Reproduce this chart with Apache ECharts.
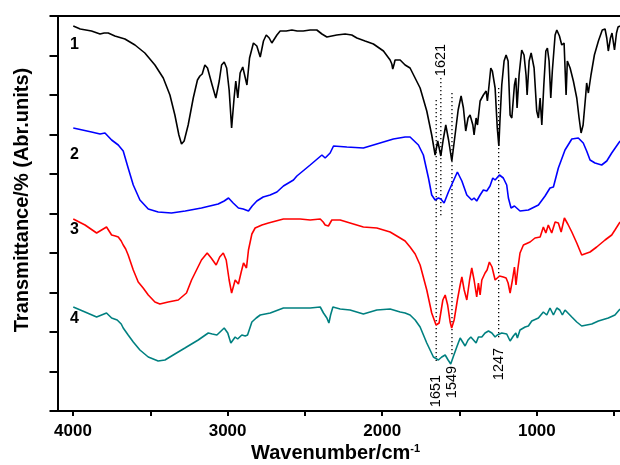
<!DOCTYPE html>
<html lang="en">
<head>
    <meta charset="UTF-8">
    <title>FTIR spectra</title>
    <script src="https://cdn.jsdelivr.net/npm/echarts/dist/echarts.min.js"></script>
    <style>
        body { margin: 0; background: #fff; }
        #main { width: 620px; height: 465px; }
    </style>
</head>
<body>
<div id="main"></div>
<script>
    // spectra: [wavenumber (cm-1), transmittance (a.u.)]
    const spectrum1 = [[3998,385],[3953,382],[3880,380],[3825,377],[3798,378],[3772,378],[3729,375],[3664,372],[3599,366],[3535,358],[3470,346],[3416,333],[3373,316],[3341,296],[3315,276],[3298,267],[3281,270],[3255,286],[3222,313],[3195,331],[3179,335],[3164,337],[3147,346],[3130,343],[3100,326],[3076,313],[3054,330],[3039,346],[3022,349],[3006,343],[2990,321],[2974,283],[2958,313],[2947,330],[2934,313],[2919,338],[2902,344],[2875,326],[2858,353],[2833,368],[2811,365],[2789,354],[2768,370],[2750,376],[2731,373],[2714,368],[2681,376],[2660,380],[2621,380],[2584,381],[2550,380],[2511,380],[2466,381],[2423,381],[2390,377],[2358,374],[2294,376],[2240,377],[2197,376],[2164,373],[2111,370],[2057,367],[1992,360],[1949,351],[1938,347],[1932,342],[1923,347],[1917,351],[1884,351],[1852,346],[1820,343],[1755,323],[1712,300],[1680,276],[1658,256],[1641,270],[1621,255],[1606,271],[1589,286],[1571,271],[1550,250],[1529,276],[1509,301],[1490,315],[1475,303],[1460,280],[1445,293],[1432,296],[1414,286],[1406,276],[1393,293],[1384,286],[1367,310],[1346,316],[1328,320],[1320,310],[1311,323],[1298,343],[1288,340],[1270,323],[1256,283],[1246,265],[1238,293],[1227,326],[1212,350],[1199,356],[1186,350],[1173,296],[1162,293],[1145,326],[1136,333],[1128,303],[1115,336],[1098,361],[1083,356],[1070,336],[1063,316],[1050,350],[1037,358],[1018,343],[1001,300],[990,293],[979,313],[968,286],[955,326],[942,360],[932,363],[921,350],[910,313],[900,340],[882,376],[871,381],[854,375],[839,366],[824,368],[811,316],[803,350],[785,343],[764,330],[742,313],[727,293],[714,278],[701,286],[684,316],[678,328],[667,318],[650,336],[628,356],[602,370],[577,381],[559,382],[548,373],[538,360],[524,373],[514,378],[498,361],[485,378],[475,384],[462,385]];
    const spectrum2 = [[3998,283],[3880,279],[3825,277],[3793,278],[3750,271],[3707,266],[3675,260],[3643,243],[3610,226],[3567,211],[3513,202],[3449,199],[3363,198],[3274,200],[3169,203],[3061,207],[3022,210],[2994,213],[2964,208],[2930,203],[2899,202],[2865,200],[2841,205],[2811,210],[2770,214],[2725,216],[2681,219],[2639,225],[2574,231],[2552,235],[2466,246],[2390,256],[2369,253],[2337,258],[2315,265],[2229,264],[2122,263],[2014,268],[1928,272],[1852,274],[1820,274],[1766,266],[1734,256],[1701,233],[1680,216],[1658,211],[1637,213],[1621,212],[1600,208],[1572,219],[1540,230],[1514,239],[1485,230],[1453,216],[1421,211],[1406,213],[1389,210],[1367,216],[1346,221],[1324,220],[1303,225],[1285,233],[1270,231],[1242,236],[1217,233],[1195,226],[1184,213],[1167,203],[1145,205],[1109,200],[1055,201],[990,206],[947,215],[915,223],[893,224],[861,243],[818,261],[774,272],[732,273],[700,268],[678,260],[656,251],[624,248],[581,246],[548,250],[516,258],[462,270]];
    const spectrum3 = [[3998,192],[3922,186],[3847,178],[3783,184],[3750,176],[3726,175],[3707,174],[3688,170],[3675,166],[3659,162],[3643,156],[3610,141],[3578,129],[3546,123],[3513,116],[3470,109],[3438,107],[3384,109],[3319,111],[3266,118],[3233,131],[3201,141],[3169,151],[3132,158],[3106,153],[3074,146],[3051,154],[3028,158],[3009,151],[2990,131],[2974,118],[2951,131],[2930,127],[2912,139],[2897,148],[2878,143],[2865,161],[2843,177],[2822,183],[2778,186],[2736,188],[2639,192],[2531,192],[2466,191],[2401,192],[2382,189],[2369,186],[2348,185],[2326,191],[2316,192],[2272,191],[2208,188],[2122,184],[2035,183],[1949,179],[1884,173],[1852,170],[1820,164],[1787,157],[1755,146],[1712,121],[1680,98],[1652,86],[1632,88],[1608,111],[1593,116],[1577,106],[1561,89],[1551,83],[1535,91],[1514,111],[1496,126],[1485,134],[1470,121],[1453,111],[1435,131],[1421,143],[1406,131],[1389,114],[1378,128],[1367,116],[1356,131],[1335,138],[1322,141],[1307,149],[1290,144],[1270,131],[1259,129],[1242,135],[1217,134],[1199,133],[1186,128],[1173,118],[1158,131],[1145,144],[1135,126],[1124,141],[1109,158],[1087,166],[1044,169],[1012,173],[979,174],[958,184],[942,178],[926,186],[904,178],[882,189],[861,188],[843,179],[822,193],[800,187],[774,179],[742,168],[710,156],[656,159],[613,164],[559,171],[516,176],[495,181],[462,189]];
    const spectrum4 = [[3998,104],[3922,99],[3847,94],[3783,98],[3750,93],[3714,91],[3688,87],[3675,83],[3643,76],[3610,69],[3567,61],[3513,54],[3449,50],[3405,51],[3341,57],[3276,63],[3190,71],[3125,78],[3099,77],[3069,76],[3022,83],[2999,78],[2979,68],[2951,74],[2935,72],[2908,76],[2886,75],[2871,76],[2843,89],[2815,93],[2789,96],[2724,98],[2639,103],[2552,103],[2466,103],[2401,104],[2380,98],[2358,93],[2345,88],[2334,96],[2319,104],[2272,102],[2208,101],[2122,97],[2035,101],[1949,102],[1884,99],[1852,98],[1820,96],[1787,91],[1755,84],[1712,68],[1669,54],[1637,51],[1615,54],[1593,56],[1574,51],[1557,47],[1539,55],[1518,64],[1496,73],[1480,69],[1464,65],[1445,71],[1427,74],[1410,71],[1393,68],[1378,74],[1356,74],[1335,78],[1313,80],[1291,78],[1270,74],[1256,76],[1227,78],[1195,77],[1173,70],[1152,75],[1136,78],[1126,73],[1109,81],[1076,84],[1055,85],[1033,90],[990,93],[958,99],[936,96],[915,103],[893,96],[871,103],[852,101],[835,96],[818,101],[774,94],[742,89],[710,85],[645,87],[602,90],[538,93],[495,96],[462,102]];

    const curveColors = ['#000000', '#0000ff', '#ff0000', '#008080'];
    const curveNames = ['1', '2', '3', '4'];
    const curveLabelY = [366, 256, 181, 92];

    // marked bands
    const peakWn = [1651, 1621, 1549, 1247];
    const peakTop = [311, 333, 318, 323];
    const peakBottom = [50, 194, 54, 73];
    const peakLabelY = [20, 351, 29, 47];

    const xTicks = [4000, 3500, 3000, 2500, 2000, 1500, 1000, 500];
    const xLabels = [4000, 3000, 2000, 1000];
    const yTicks = [0, 39.5, 79, 118.5, 158, 197.5, 237, 276.5, 316, 355.5, 395];

    const FONT = 'Liberation Sans, Arial, sans-serif';
    const NARROW = 'Liberation Sans Narrow, Arial Narrow, Liberation Sans, sans-serif';

    let myChart = echarts.init(document.getElementById('main'));

    let series = [spectrum1, spectrum2, spectrum3, spectrum4].map((d, i) => ({
        type: 'line',
        data: d,
        showSymbol: false,
        lineStyle: {color: curveColors[i], width: 1.6},
        z: 3
    }));

    peakWn.forEach((w, i) => {
        series.push({
            type: 'line',
            data: [[w, peakTop[i]], [w, peakBottom[i]]],
            showSymbol: false,
            lineStyle: {color: '#000', width: 1.3, type: [1.3, 2.7]},
            z: 2
        });
    });

    series.push({
        type: 'scatter',
        data: curveNames.map((n, i) => [3991, curveLabelY[i], n]),
        symbolSize: 0.01,
        itemStyle: {color: '#000', opacity: 1},
        label: {
            show: true, position: 'inside', formatter: p => p.data[2],
            fontFamily: FONT, fontWeight: 'bold', fontSize: 16, color: '#000'
        }
    });

    series.push({
        type: 'scatter',
        data: peakWn.map((w, i) => [w, peakLabelY[i], String(w)]),
        symbolSize: 0.01,
        itemStyle: {color: '#000', opacity: 1},
        label: {
            show: true, position: 'inside', rotate: 90, formatter: p => p.data[2],
            fontFamily: NARROW, fontSize: 14.5, color: '#000'
        }
    });

    let option = {
        animation: false,
        backgroundColor: '#fff',
        grid: {left: 57.5, top: 16, bottom: 54, width: 634, outerBoundsMode: 'none', containLabel: false},
        xAxis: [{
            type: 'value', inverse: true, min: 0, max: 4100, interval: 500,
            axisLine: {onZero: false, lineStyle: {color: '#000', width: 2}},
            axisTick: {length: 5, customValues: xTicks, lineStyle: {color: '#000', width: 2}},
            axisLabel: {
                customValues: xLabels, margin: 12, color: '#000',
                formatter: v => String(v),
                fontFamily: FONT, fontWeight: 'bold', fontSize: 17
            },
            splitLine: {show: false}
        }, {
            type: 'value', inverse: true, min: 0, max: 4100, position: 'top',
            axisLine: {onZero: false, lineStyle: {color: '#000', width: 2}},
            axisTick: {show: false},
            axisLabel: {show: false},
            splitLine: {show: false}
        }],
        yAxis: {
            type: 'value', min: 0, max: 395, interval: 39.5,
            axisLine: {show: true, onZero: false, lineStyle: {color: '#000', width: 2}},
            axisTick: {show: true, length: 8, customValues: yTicks, lineStyle: {color: '#000', width: 2}},
            axisLabel: {show: false},
            splitLine: {show: false}
        },
        graphic: [{
            type: 'text', x: 22, y: 200, rotation: Math.PI / 2,
            style: {
                text: 'Transmittance/% (Abr.units)', font: 'bold 20px ' + FONT,
                fill: '#000', align: 'center', verticalAlign: 'middle'
            }
        }, {
            type: 'text', left: 251, top: 443,
            style: {
                text: '{a|Wavenumber/cm}{b|-1}',
                rich: {
                    a: {fontFamily: FONT, fontWeight: 'bold', fontSize: 20, fill: '#000'},
                    b: {fontFamily: FONT, fontWeight: 'bold', fontSize: 11, fill: '#000', verticalAlign: 'top'}
                }
            }
        }],
        series: series
    };
    myChart.setOption(option);
</script>
</body>
</html>
